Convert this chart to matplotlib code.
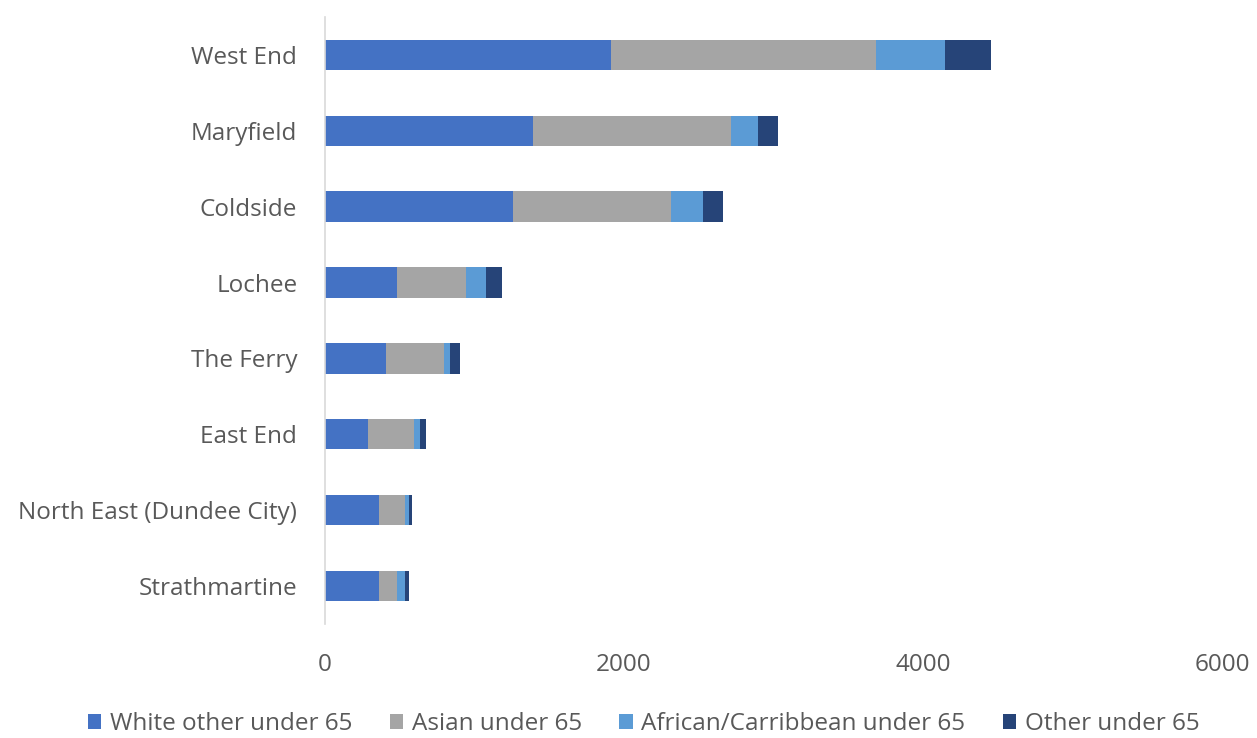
import matplotlib
matplotlib.use("Agg")
import matplotlib.pyplot as plt
import numpy as np

plt.rcParams['font.family'] = ['Open Sans', 'DejaVu Sans']

wards = ["West End", "Maryfield", "Coldside", "Lochee", "The Ferry",
         "East End", "North East (Dundee City)", "Strathmartine"]
white_other = [1911, 1393, 1255, 480, 406, 290, 359, 363]
asian = [1775, 1321, 1057, 461, 390, 307, 176, 121]
african_caribbean = [461, 180, 218, 134, 40, 38, 29, 53]
other = [306, 138, 134, 109, 65, 43, 20, 23]

series = [
    ("White other under 65", white_other, "#4472C4"),
    ("Asian under 65", asian, "#A5A5A5"),
    ("African/Carribbean under 65", african_caribbean, "#5B9BD5"),
    ("Other under 65", other, "#264478"),
]
xticks = [0, 2000, 4000, 6000]

fig = plt.figure(figsize=(12.57, 7.38), dpi=100)
ax = fig.add_axes([0.2586, 0.1545, 0.7136, 0.8225])

y = np.arange(len(wards))
left = np.zeros(len(wards))
for name, vals, color in series:
    vals = np.array(vals, dtype=float)
    ax.barh(y, vals, left=left, height=0.4, color=color, label=name)
    left += vals

ax.set_ylim(len(wards) - 0.5, -0.5)
ax.set_xlim(0, 6000)
ax.set_yticks(y)
ax.set_yticklabels(wards)
ax.set_xticks(xticks)
ax.set_xticklabels([str(t) for t in xticks])

for s in ["top", "right", "bottom"]:
    ax.spines[s].set_visible(False)
ax.spines["left"].set_color("#D9D9D9")
ax.spines["left"].set_linewidth(1.2)
ax.tick_params(axis="both", length=0, labelsize=17.5, colors="#595959")
ax.tick_params(axis="x", pad=21)
ax.tick_params(axis="y", pad=20)

fig.legend(loc="center", bbox_to_anchor=(0.512, 0.019),
           ncol=4, frameon=False, fontsize=17.5, handlelength=0.55, handleheight=0.55,
           handletextpad=0.35, columnspacing=1.55, labelcolor="#595959",
           bbox_transform=fig.transFigure)

fig.savefig("out.png", dpi=100)
